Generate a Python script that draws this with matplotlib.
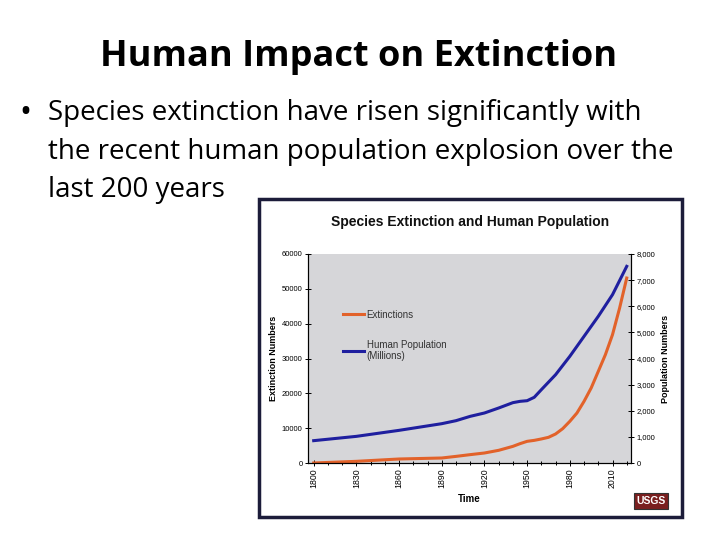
import matplotlib
matplotlib.use("Agg")
import matplotlib.pyplot as plt
from matplotlib.patches import Rectangle
from matplotlib.ticker import FuncFormatter, MultipleLocator

years_pop = [1800, 1830, 1860, 1890, 1900, 1910, 1920, 1930, 1940, 1945, 1950, 1955,
             1960, 1970, 1980, 1990, 2000, 2010, 2020]
population = [855, 1020, 1250, 1505, 1620, 1786, 1914, 2105, 2310, 2360, 2385, 2515,
              2807, 3380, 4083, 4848, 5614, 6443, 7527]

years_ext = [1800, 1830, 1860, 1890, 1900, 1910, 1920, 1930, 1940, 1945, 1950, 1955,
             1960, 1965, 1970, 1975, 1980, 1985, 1990, 1995, 2000, 2005, 2010, 2015, 2020]
extinctions = [0, 480, 1150, 1435, 1900, 2400, 2870, 3640, 4780, 5550, 6220, 6500,
               6900, 7370, 8330, 9860, 11960, 14350, 17700, 21530, 26300, 31100,
               36840, 44500, 53100]

x_ticks = [1800, 1830, 1860, 1890, 1920, 1950, 1980, 2010]
left_ticks = [0, 10000, 20000, 30000, 40000, 50000, 60000]
right_ticks = [0, 1000, 2000, 3000, 4000, 5000, 6000, 7000, 8000]

slide_font = ['Open Sans', 'DejaVu Sans']
chart_font = ['Liberation Sans', 'DejaVu Sans']

fig = plt.figure(figsize=(7.2, 5.4), dpi=100)
fig.patch.set_facecolor('white')

W, H = 720, 540
def fx(px):
    return px / W
def fy(py):
    return 1 - py / H

# Slide title and bullet
fig.text(fx(359), fy(57), 'Human Impact on Extinction', ha='center', va='center',
         fontsize=26, fontweight='bold', family=slide_font, color='black')
bullet_lines = ['Species extinction have risen significantly with',
                'the recent human population explosion over the',
                'last 200 years']
fig.text(fx(19), fy(113), '\u2022', ha='left', va='center', fontsize=23,
         family=slide_font, color='black')
for i, line in enumerate(bullet_lines):
    fig.text(fx(48), fy(113 + i * 38.5), line, ha='left', va='center',
             fontsize=20, family=slide_font, color='black')

# Chart image frame
fig.patches.append(Rectangle((fx(259), fy(517)), fx(682) - fx(259), fy(199) - fy(517),
                             transform=fig.transFigure, facecolor='none',
                             edgecolor='#1c1c3a', linewidth=2.5, zorder=5))
fig.text(fx(470), fy(222), 'Species Extinction and Human Population', ha='center',
         va='center', fontsize=10, fontweight='bold', family=chart_font, color='#111111')

ax = fig.add_axes([fx(308), fy(463), fx(631) - fx(308), fy(254) - fy(463)])
ax.set_facecolor('#d6d6d9')
ax.set_xlim(1796, 2023)
ax.set_ylim(0, 60000)
ax2 = ax.twinx()
ax2.set_ylim(0, 8000)

l1, = ax.plot(years_ext, extinctions, color='#e2622a', lw=2.2, label='Extinctions')
l2, = ax2.plot(years_pop, population, color='#1f1f9f', lw=2.2,
               label='Human Population\n(Millions)')

ax.set_xticks(x_ticks)
ax.xaxis.set_minor_locator(MultipleLocator(10))
ax.set_yticks(left_ticks)
ax2.set_yticks(right_ticks)
ax2.yaxis.set_major_formatter(FuncFormatter(lambda v, p: f'{int(v):,}'))

for lab in ax.get_xticklabels():
    lab.set_rotation(90)
for a in (ax, ax2):
    a.spines['top'].set_visible(False)
    for s in a.spines.values():
        s.set_linewidth(0.8)
    a.tick_params(axis='both', which='both', labelsize=5.5, direction='inout',
                  length=4, width=0.7, pad=2)
    for lab in a.get_xticklabels() + a.get_yticklabels():
        lab.set_family(chart_font)
ax.tick_params(axis='x', which='major', labelsize=6.3)
ax.tick_params(axis='x', which='minor', length=3)

ax.set_xlabel('Time', fontsize=7, fontweight='bold', family=chart_font, labelpad=4)
ax.set_ylabel('Extinction Numbers', fontsize=6.5, fontweight='bold', family=chart_font,
              labelpad=3)
ax2.set_ylabel('Population Numbers', fontsize=6.5, fontweight='bold', family=chart_font,
               labelpad=4)

leg = ax.legend(handles=[l1, l2], loc='upper left', bbox_to_anchor=(0.087, 0.766),
                frameon=False, labelspacing=2.05, handlelength=2.2,
                handletextpad=0.25, borderpad=0.2, prop={'family': chart_font, 'size': 7})
for t in leg.get_texts():
    t.set_color('#333333')

# USGS logo
fig.text(fx(651), fy(501), 'USGS', ha='center', va='center', fontsize=7.5,
         fontweight='bold', color='white', family=chart_font,
         bbox=dict(boxstyle='square,pad=0.25', facecolor='#7a1f1f', edgecolor='#333333',
                   linewidth=0.8))

fig.savefig('out.png', dpi=100)
